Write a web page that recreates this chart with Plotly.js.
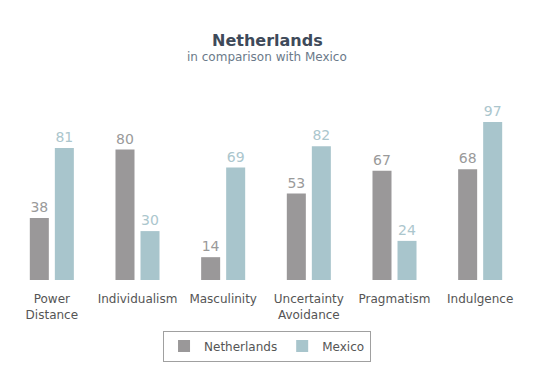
<!DOCTYPE html>
<html><head><meta charset="utf-8">
<script src="https://cdn.plot.ly/plotly-3.0.1.min.js"></script>
<style>html,body{margin:0;padding:0;background:#fff}#chart{width:539px;height:379px}</style>
</head><body><div id="chart"></div>
<script>
var categories = ["Power Distance","Individualism","Masculinity","Uncertainty Avoidance","Pragmatism","Indulgence"];
var tickLabels = ["Power<br>Distance","Individualism","Masculinity","Uncertainty<br>Avoidance","Pragmatism","Indulgence"];
var netherlands = [38, 80, 14, 53, 67, 68];
var mexico = [81, 30, 69, 82, 24, 97];
var font = "'DejaVu Sans', Verdana, sans-serif";

var traces = [
  {type:"bar", name:"Netherlands", x:categories, y:netherlands, marker:{color:"#9a9899"},
   text:netherlands.map(String), textposition:"outside", cliponaxis:false,
   outsidetextfont:{color:"#9a9a9a", size:14, family:font}, hoverinfo:"none"},
  {type:"bar", name:"Mexico", x:categories, y:mexico, marker:{color:"#a8c5cc"},
   text:mexico.map(String), textposition:"outside", cliponaxis:false,
   outsidetextfont:{color:"#abc6cd", size:14, family:font}, hoverinfo:"none"}
];

var layout = {
  width:539, height:379,
  margin:{l:9, r:16, t:117, b:99},
  paper_bgcolor:"#fff", plot_bgcolor:"#fff",
  font:{family:font, color:"#555"},
  barmode:"group", bargap:0.416, bargroupgap:0.24,
  showlegend:true,
  legend:{orientation:"h", x:0.502, xanchor:"center", y:-0.31, yanchor:"top",
    bordercolor:"#a0a0a0", borderwidth:1, font:{size:12, color:"#555", family:font},
    itemwidth:30, traceorder:"normal"},
  xaxis:{tickmode:"array", tickvals:categories, ticktext:tickLabels, showgrid:false, showline:false,
    zeroline:false, ticks:"", ticklabelstandoff:10, tickfont:{size:12, color:"#555", family:font}, fixedrange:true},
  yaxis:{range:[0,100], visible:false, fixedrange:true},
  annotations:[
    {text:"<b>Netherlands</b>", xref:"paper", yref:"paper", x:0.502, y:(280-40)/163, xanchor:"center", yanchor:"middle",
     showarrow:false, font:{size:16, color:"#3e4a5a", family:font}},
    {text:"in comparison with Mexico", xref:"paper", yref:"paper", x:0.502, y:(280-57)/163, xanchor:"center", yanchor:"middle",
     showarrow:false, font:{size:12, color:"#6b7a8a", family:font}}
  ]
};
Plotly.newPlot("chart", traces, layout, {displayModeBar:false, staticPlot:true});
</script></body></html>
